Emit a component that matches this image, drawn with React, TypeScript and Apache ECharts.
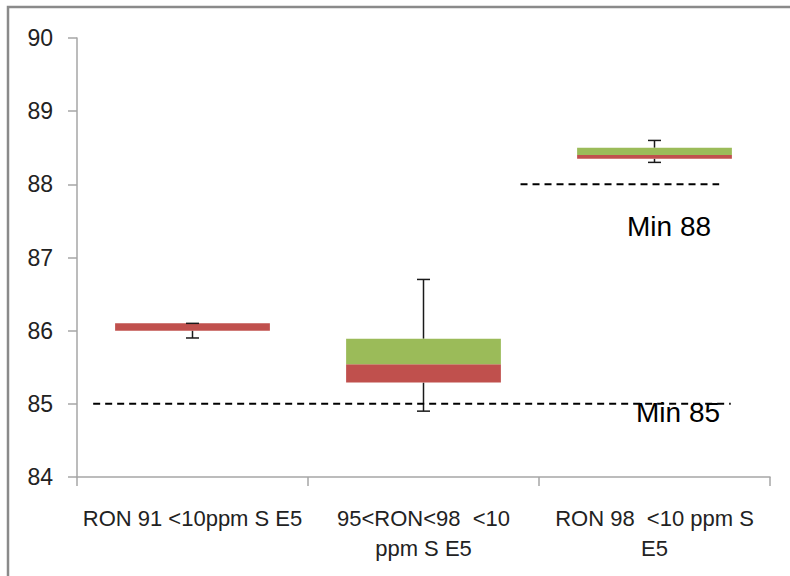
import React, { useEffect, useRef } from "react";
import * as echarts from "echarts";

// Octane (RON) distribution per fuel grade
const categories = ["RON 91 <10ppm S E5", "95<RON<98  <10\nppm S E5", "RON 98  <10 ppm S\nE5"];
const minValues = [85.9, 84.9, 88.3];
const q1Values = [86.0, 85.29, 88.35];
const medianValues = [86.1, 85.54, 88.4];
const q3Values = [86.1, 85.89, 88.5];
const maxValues = [86.1, 86.7, 88.6];

// Specification limits
const limitValues = [85, 88];
const limitLabels = ["Min 85", "Min 88"];

const yMin = 84;
const yMax = 90;
const yStep = 1;

const RED = "#C0504D";
const GREEN = "#9BBB59";

export default function App() {
  const ref = useRef<HTMLDivElement>(null);

  useEffect(() => {
    if (!ref.current) return;
    const chart = echarts.init(ref.current, null, { renderer: "svg" });

    const boxData = categories.map((_, i) => [
      i,
      minValues[i],
      q1Values[i],
      medianValues[i],
      q3Values[i],
      maxValues[i],
    ]);

    const renderItem = (params: any, api: any) => {
      const idx = api.value(0);
      const [cx] = api.coord([idx, 0]);
      const pMin = api.coord([idx, api.value(1)])[1];
      const pQ1 = api.coord([idx, api.value(2)])[1];
      const pMed = api.coord([idx, api.value(3)])[1];
      const pQ3 = api.coord([idx, api.value(4)])[1];
      const pMax = api.coord([idx, api.value(5)])[1];
      const bandW = api.size([1, 0])[0];
      const boxW = bandW * 0.67;
      const capW = 13;
      const left = cx - boxW / 2;
      const wStyle = { stroke: "#1a1a1a", lineWidth: 1.5 };
      return {
        type: "group",
        children: [
          { type: "line", shape: { x1: cx, y1: pMax, x2: cx, y2: pQ3 }, style: wStyle },
          { type: "line", shape: { x1: cx, y1: pQ1, x2: cx, y2: pMin }, style: wStyle },
          { type: "rect", shape: { x: left, y: pMed, width: boxW, height: pQ1 - pMed }, style: { fill: RED } },
          { type: "rect", shape: { x: left, y: pQ3, width: boxW, height: pMed - pQ3 }, style: { fill: GREEN } },
          { type: "line", shape: { x1: cx - capW / 2, y1: pMax, x2: cx + capW / 2, y2: pMax }, style: wStyle },
          { type: "line", shape: { x1: cx - capW / 2, y1: pMin, x2: cx + capW / 2, y2: pMin }, style: wStyle },
        ],
      };
    };

    const limitSpans = [
      [0.07, 2.83],
      [1.92, 2.78],
    ];

    const limitSeries = limitValues.map((v, i) => ({
      type: "line",
      xAxisIndex: 1,
      yAxisIndex: 0,
      data: [
        [limitSpans[i][0], v],
        [limitSpans[i][1], v],
      ],
      symbol: "none",
      silent: true,
      lineStyle: { color: "#000", width: 2, type: [7, 5] },
      z: 3,
    }));

    chart.setOption({
      animation: false,
      backgroundColor: "#fff",
      grid: { left: 77, right: 20, top: 38, bottom: 99 },
      xAxis: [
        {
          type: "category",
          data: categories,
          boundaryGap: true,
          axisLine: { lineStyle: { color: "#a6a6a6", width: 1.5 } },
          axisTick: { show: true, length: 9, lineStyle: { color: "#a6a6a6", width: 1.5 } },
          axisLabel: {
            interval: 0,
            margin: 26,
            color: "#222",
            fontFamily: "Liberation Sans",
            fontSize: 22,
            lineHeight: 30,
          },
          splitLine: { show: false },
        },
        {
          type: "value",
          min: 0,
          max: 3,
          show: false,
        },
      ],
      yAxis: {
        type: "value",
        min: yMin,
        max: yMax,
        interval: yStep,
        axisLine: { show: true, lineStyle: { color: "#a6a6a6", width: 1.5 } },
        axisTick: { show: true, length: 9, lineStyle: { color: "#a6a6a6", width: 1.5 } },
        axisLabel: {
          margin: 24,
          color: "#222",
          fontFamily: "Liberation Sans",
          fontSize: 23,
        },
        splitLine: { show: false },
      },
      graphic: [
        {
          type: "rect",
          shape: { x: 8, y: 7, width: 820, height: 620 },
          style: { fill: "none", stroke: "#8a8a8a", lineWidth: 2.5 },
          silent: true,
          z: 10,
        },
        {
          type: "text",
          x: 627,
          y: 226,
          style: {
            text: limitLabels[1],
            fill: "#000",
            font: "28px 'Liberation Sans'",
            verticalAlign: "middle",
          },
          z: 10,
        },
        {
          type: "text",
          x: 636,
          y: 412,
          style: {
            text: limitLabels[0],
            fill: "#000",
            font: "28px 'Liberation Sans'",
            verticalAlign: "middle",
          },
          z: 10,
        },
      ],
      series: [
        {
          type: "custom",
          xAxisIndex: 0,
          yAxisIndex: 0,
          renderItem,
          data: boxData,
          encode: { x: 0, y: [1, 2, 3, 4, 5] },
          z: 2,
        },
        ...limitSeries,
      ],
    });

    return () => chart.dispose();
  }, []);

  return (
    <div
      ref={ref}
      style={{ position: "absolute", left: 0, top: 0, width: 790, height: 576, background: "#fff" }}
    />
  );
}
